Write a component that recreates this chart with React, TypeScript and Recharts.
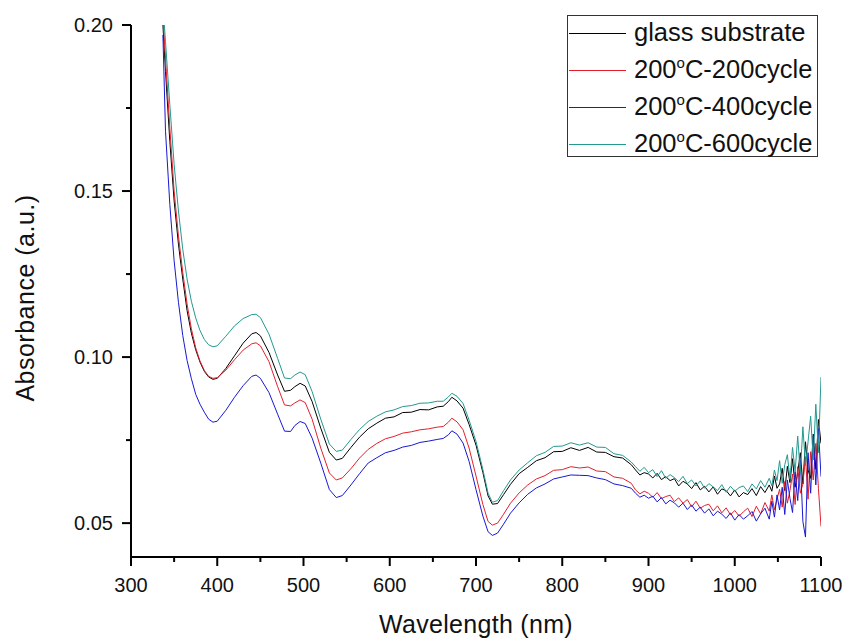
import { LineChart, Line, XAxis, YAxis } from 'recharts'

const FONT = '"Liberation Sans", Arial, sans-serif'

// wavelength (nm)
const WL = [
  337, 340, 345, 350, 355, 360, 365, 370, 375, 380, 385, 390, 395,
  400, 410, 420, 430, 440, 445, 450, 460, 470, 478, 485, 490, 496, 502,
  510, 520, 530, 538, 545, 555, 565, 575, 585, 595, 605, 615, 625, 635, 645, 655,
  662, 668, 672, 678, 685, 692, 700, 708, 714, 719, 725, 732, 740, 750, 760,
  770, 780, 790, 800, 810, 820, 830, 840, 850, 860, 870, 880,
  885, 890, 895, 900, 905, 910, 915, 920, 925, 930, 935, 940, 945, 950, 955, 960,
  965, 970, 975, 980, 985, 990, 995, 1000, 1005, 1010, 1015, 1020, 1025, 1030, 1035, 1040,
  1043, 1046, 1049, 1052, 1055, 1058, 1061, 1064, 1067, 1070, 1073, 1076, 1079, 1082,
  1085, 1088, 1091, 1094, 1097, 1100,
]

const GLASS = [
  0.200, 0.186, 0.165, 0.147, 0.134, 0.1235, 0.1140, 0.1072, 0.1022, 0.0985, 0.0957, 0.0940, 0.0933,
  0.0936, 0.0966, 0.1004, 0.1042, 0.1070, 0.1074, 0.1064, 0.1014, 0.0946, 0.0897, 0.0900, 0.0911, 0.0921, 0.0913,
  0.0866, 0.0786, 0.0713, 0.0690, 0.0695, 0.0728, 0.0759, 0.0784, 0.0801, 0.0816, 0.0820, 0.0833, 0.0834, 0.0842, 0.0841, 0.0850,
  0.0852, 0.0866, 0.0879, 0.0868, 0.0846, 0.0797, 0.0735, 0.0652, 0.0582, 0.0557, 0.0559, 0.0586, 0.0617, 0.0649, 0.0668,
  0.0688, 0.0697, 0.0715, 0.0716, 0.0727, 0.0719, 0.0728, 0.0714, 0.0713, 0.0700, 0.0696, 0.0676,
  0.0660, 0.0645, 0.0652, 0.0648, 0.0636, 0.0650, 0.0631, 0.0640, 0.0628, 0.0634, 0.0612, 0.0626, 0.0618, 0.0604,
  0.0622, 0.0600, 0.0611, 0.0594, 0.0609, 0.0587, 0.0603, 0.0598, 0.0582, 0.0600, 0.0579, 0.0592, 0.0586, 0.0604,
  0.0583, 0.0610, 0.0592, 0.0615,
  0.0596, 0.0642, 0.0605, 0.0618, 0.0665, 0.0598, 0.0671, 0.0622, 0.0694, 0.0608, 0.0652, 0.0712, 0.0618, 0.0745,
  0.0660, 0.0635, 0.0768, 0.0662, 0.0812, 0.0740,
]

const C200 = [
  0.203, 0.190, 0.169, 0.150, 0.1365, 0.1255, 0.1160, 0.1085, 0.1028, 0.0988, 0.0960, 0.0942, 0.0936,
  0.0938, 0.0961, 0.0992, 0.1021, 0.1040, 0.1043, 0.1034, 0.0986, 0.0911, 0.0856, 0.0853, 0.0862, 0.0871, 0.0863,
  0.0813, 0.0726, 0.0651, 0.0630, 0.0636, 0.0664, 0.0696, 0.0722, 0.0740, 0.0754, 0.0761, 0.0771, 0.0775, 0.0781, 0.0784, 0.0789,
  0.0791, 0.0804, 0.0816, 0.0805, 0.0781, 0.0726, 0.0642, 0.0556, 0.0505, 0.0494, 0.0500, 0.0527, 0.0560, 0.0591, 0.0615,
  0.0633, 0.0643, 0.0659, 0.0661, 0.0670, 0.0666, 0.0669, 0.0657, 0.0655, 0.0639, 0.0635, 0.0620,
  0.0600, 0.0588, 0.0596, 0.0590, 0.0578, 0.0592, 0.0574, 0.0580, 0.0584, 0.0565, 0.0576, 0.0560, 0.0571, 0.0549,
  0.0566, 0.0545, 0.0553, 0.0557, 0.0537, 0.0552, 0.0531, 0.0546, 0.0525, 0.0538, 0.0521, 0.0534, 0.0545, 0.0520,
  0.0551, 0.0528, 0.0562, 0.0536,
  0.0585, 0.0540, 0.0572, 0.0602, 0.0548, 0.0625, 0.0560, 0.0598, 0.0648, 0.0556, 0.0670, 0.0590, 0.0618, 0.0700,
  0.0572, 0.0715, 0.0630, 0.0740, 0.0605, 0.0490,
]

const C400 = [
  0.197, 0.168, 0.146, 0.129, 0.1165, 0.1065, 0.0990, 0.0935, 0.0888, 0.0858, 0.0834, 0.0813, 0.0804,
  0.0807, 0.0840, 0.0879, 0.0914, 0.0942, 0.0946, 0.0936, 0.0893, 0.0828, 0.0777, 0.0776, 0.0794, 0.0806, 0.0800,
  0.0756, 0.0681, 0.0601, 0.0577, 0.0583, 0.0615, 0.0649, 0.0681, 0.0697, 0.0712, 0.0719, 0.0729, 0.0734, 0.0743, 0.0747, 0.0752,
  0.0755, 0.0766, 0.0778, 0.0768, 0.0741, 0.0686, 0.0601, 0.0521, 0.0474, 0.0463, 0.0470, 0.0497, 0.0530, 0.0561, 0.0587,
  0.0606, 0.0618, 0.0633, 0.0639, 0.0645, 0.0644, 0.0643, 0.0636, 0.0631, 0.0618, 0.0613, 0.0605,
  0.0590, 0.0578, 0.0584, 0.0575, 0.0581, 0.0564, 0.0577, 0.0558, 0.0569, 0.0561, 0.0548, 0.0560, 0.0541, 0.0555,
  0.0536, 0.0548, 0.0530, 0.0543, 0.0522, 0.0536, 0.0527, 0.0514, 0.0531, 0.0509, 0.0526, 0.0512, 0.0522, 0.0535,
  0.0506, 0.0528, 0.0545, 0.0512,
  0.0566, 0.0518, 0.0585, 0.0540, 0.0608, 0.0526, 0.0630, 0.0575, 0.0532, 0.0655, 0.0568, 0.0690, 0.0505, 0.0458,
  0.0712, 0.0590, 0.0762, 0.0615, 0.0785, 0.0640,
]

const C600 = [
  0.206, 0.195, 0.176, 0.158, 0.1440, 0.1325, 0.1235, 0.1168, 0.1118, 0.1080, 0.1053, 0.1037, 0.1031,
  0.1034, 0.1063, 0.1094, 0.1116, 0.1128, 0.1129, 0.1119, 0.1069, 0.0996, 0.0937, 0.0935, 0.0946, 0.0955, 0.0947,
  0.0896, 0.0813, 0.0738, 0.0716, 0.0720, 0.0752, 0.0782, 0.0806, 0.0822, 0.0835, 0.0841, 0.0851, 0.0854, 0.0861, 0.0862, 0.0867,
  0.0867, 0.0880, 0.0891, 0.0882, 0.0860, 0.0810, 0.0746, 0.0661, 0.0590, 0.0563, 0.0568, 0.0598, 0.0630, 0.0660, 0.0682,
  0.0703, 0.0713, 0.0731, 0.0732, 0.0742, 0.0735, 0.0742, 0.0729, 0.0728, 0.0709, 0.0704, 0.0684,
  0.0670, 0.0656, 0.0668, 0.0652, 0.0661, 0.0640, 0.0658, 0.0635, 0.0646, 0.0637, 0.0625, 0.0641, 0.0619, 0.0630,
  0.0612, 0.0627, 0.0605, 0.0619, 0.0609, 0.0598, 0.0616, 0.0593, 0.0611, 0.0596, 0.0607, 0.0612, 0.0595, 0.0618,
  0.0603, 0.0628, 0.0608, 0.0635,
  0.0612, 0.0660, 0.0628, 0.0688, 0.0620, 0.0676, 0.0706, 0.0632, 0.0728, 0.0655, 0.0762, 0.0648, 0.0790, 0.0672,
  0.0745, 0.0822, 0.0690, 0.0858, 0.0712, 0.0940,
]

const X_TICKS = [300, 350, 400, 450, 500, 550, 600, 650, 700, 750, 800, 850, 900, 950, 1000, 1050, 1100]
const Y_TICKS = [0.05, 0.075, 0.1, 0.125, 0.15, 0.175, 0.2]

const SERIES = [
  { key: 'glass', head: 'glass substrate', tail: '', deg: false, color: '#000000' },
  { key: 'c200', head: '200', tail: 'C-200cycle', deg: true, color: '#e3202c' },
  { key: 'c400', head: '200', tail: 'C-400cycle', deg: true, color: '#1818d4' },
  { key: 'c600', head: '200', tail: 'C-600cycle', deg: true, color: '#23998f' },
]

const rows = WL.map((wl, i) => ({ wl, glass: GLASS[i], c200: C200[i], c400: C400[i], c600: C600[i] }))

const TICK_SIZE = 9
const Y_MARGIN = 9
const X_MARGIN = 12

function YTick({ x, y, payload }: any) {
  const v = payload.value
  const major = Math.abs(v * 20 - Math.round(v * 20)) < 1e-6
  const ax = x + TICK_SIZE + Y_MARGIN
  return (
    <g>
      <line x1={ax - (major ? 9 : 5)} x2={ax} y1={y} y2={y} stroke="#000" strokeWidth={2} />
      {major && (
        <text x={x} y={y} dy="0.36em" textAnchor="end" fontSize={20} fill="#111" fontFamily={FONT}>
          {v.toFixed(2)}
        </text>
      )}
    </g>
  )
}

function XTick({ x, y, payload }: any) {
  const v = payload.value
  const major = v % 100 === 0
  const ay = y - TICK_SIZE - X_MARGIN
  return (
    <g>
      <line x1={x} x2={x} y1={ay} y2={ay + (major ? 9 : 5)} stroke="#000" strokeWidth={2} />
      {major && (
        <text x={x} y={y} dy="0.71em" textAnchor="middle" fontSize={20} fill="#111" fontFamily={FONT}>
          {v}
        </text>
      )}
    </g>
  )
}

function YTitle({ viewBox }: any) {
  const cx = viewBox.x + 34
  const cy = viewBox.y + viewBox.height / 2 + 7
  return (
    <text x={cx} y={cy} transform={`rotate(-90 ${cx} ${cy})`} textAnchor="middle"
      fontSize={25} letterSpacing={0.5} fill="#111" fontFamily={FONT}>
      Absorbance (a.u.)
    </text>
  )
}

function XTitle({ viewBox }: any) {
  const cx = viewBox.x + viewBox.width / 2
  const cy = viewBox.y + 76
  return (
    <text x={cx} y={cy} textAnchor="middle" fontSize={25} letterSpacing={0.3} fill="#111" fontFamily={FONT}>
      Wavelength (nm)
    </text>
  )
}

function LegendBox() {
  return (
    <div style={{
      position: 'absolute', left: 567, top: 15, width: 251, height: 142, boxSizing: 'border-box',
      border: '1px solid #333', background: '#fff', fontFamily: FONT, color: '#111',
    }}>
      <div style={{ marginTop: -2 }}>
        {SERIES.map(s => (
          <div key={s.key} style={{ display: 'flex', alignItems: 'center', height: 37 }}>
            <svg width={58} height={9} style={{ display: 'block', flex: 'none' }}>
              <line x1={1} x2={58} y1={5.5} y2={5.5} stroke={s.color} strokeWidth={1} />
            </svg>
            <div style={{ marginLeft: 8, fontSize: 25.5, lineHeight: '37px', whiteSpace: 'nowrap' }}>
              {s.head}
              {s.deg && <span style={{ fontSize: 15, verticalAlign: '10px', lineHeight: 0 }}>o</span>}
              {s.tail}
            </div>
          </div>
        ))}
      </div>
    </div>
  )
}

export default function App() {
  return (
    <div style={{ position: 'absolute', left: 0, top: 0, width: 849, height: 639, background: '#fff' }}>
      <LineChart width={849} height={639} data={rows} margin={{ top: 25, right: 28, bottom: 0, left: 0 }}>
        <XAxis
          dataKey="wl"
          type="number"
          domain={[300, 1100]}
          ticks={X_TICKS}
          interval={0}
          allowDataOverflow
          height={82}
          tickSize={TICK_SIZE}
          tickMargin={X_MARGIN}
          tickLine={false}
          tick={XTick}
          axisLine={{ stroke: '#000', strokeWidth: 2 }}
          label={XTitle}
        />
        <YAxis
          type="number"
          domain={[0.0398, 0.2]}
          ticks={Y_TICKS}
          interval={0}
          allowDataOverflow
          width={131}
          tickSize={TICK_SIZE}
          tickMargin={Y_MARGIN}
          tickLine={false}
          tick={YTick}
          axisLine={{ stroke: '#000', strokeWidth: 2 }}
          label={YTitle}
        />
        {SERIES.map(s => (
          <Line
            key={s.key}
            type="linear"
            dataKey={s.key}
            stroke={s.color}
            strokeWidth={1}
            dot={false}
            activeDot={false}
            isAnimationActive={false}
          />
        ))}
      </LineChart>
      <LegendBox />
    </div>
  )
}
